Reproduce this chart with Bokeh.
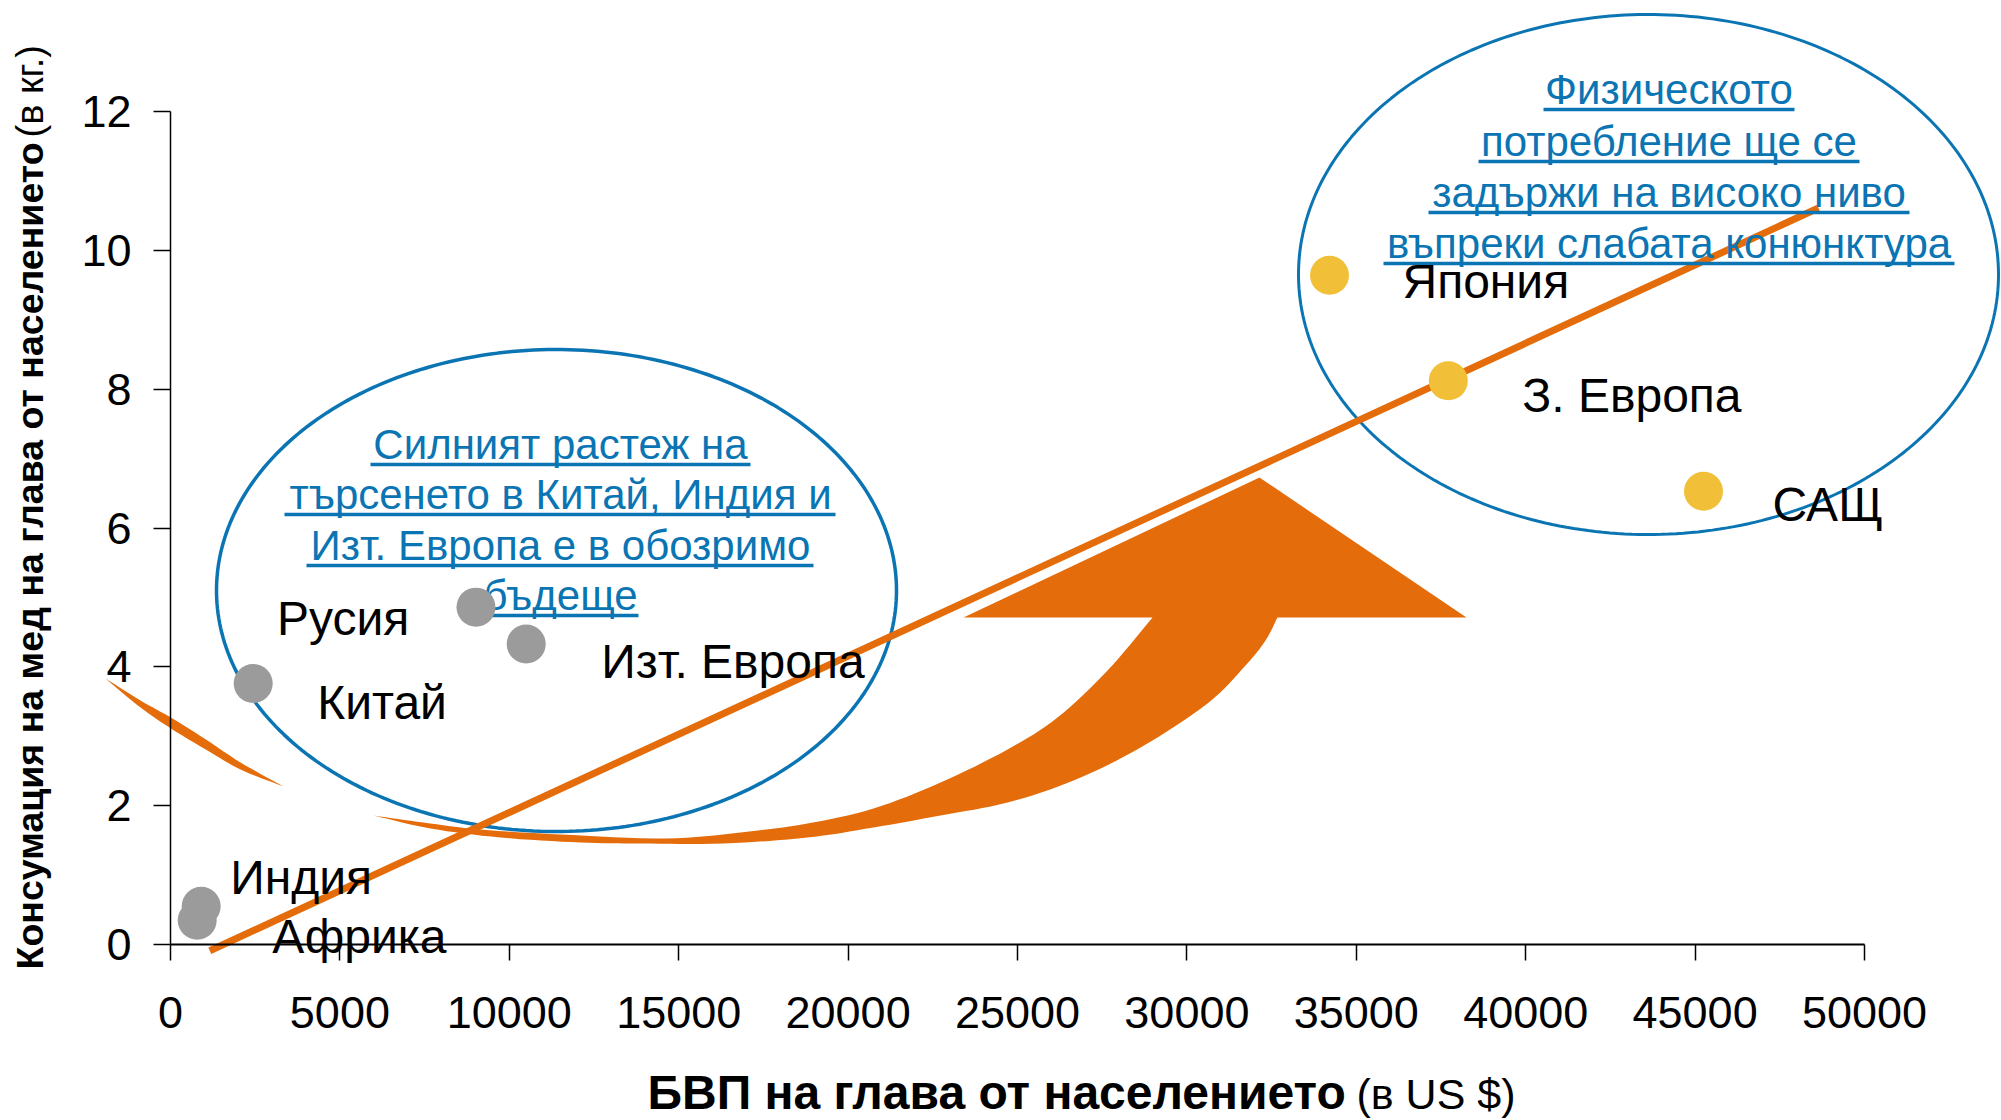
import numpy as np
from bokeh.plotting import figure
from bokeh.models import Range1d, FixedTicker, ColumnDataSource, LabelSet, PolyAnnotation
from bokeh.core.properties import value
from bokeh.embed import file_html
from bokeh.resources import INLINE

# ---------------- data ----------------
regions = ["Индия", "Африка", "Китай", "Русия", "Изт. Европа", "Япония", "З. Европа", "САЩ"]
gdp_per_capita = [906, 788, 2441, 9017, 10499, 34209, 37715, 45248]
copper_per_capita = [0.55, 0.35, 3.76, 4.86, 4.33, 9.64, 8.12, 6.53]
point_colors = ["#9B9B9B"] * 5 + ["#F1C038"] * 3
trend_x = [1160, 48642]
trend_y = [-0.09, 10.61]
x_ticks = [0, 5000, 10000, 15000, 20000, 25000, 30000, 35000, 40000, 45000, 50000]
y_ticks = [0, 2, 4, 6, 8, 10, 12]

# data label placement (pixels from point centre to text start / baseline, down positive)
label_dx = [29, 75, 64, -199, 75, 73, 74, 69]
label_dy = [-12, 33, 36, 28, 34, 23, 31, 30]

left_note = ["Силният растеж на", "търсенето в Китай, Индия и", "Изт. Европа е в обозримо", "бъдеще"]
right_note = ["Физическото", "потребление ще се", "задържи на високо ниво", "въпреки слабата конюнктура"]
y_title = ["Консумация на мед на глава от населението", "(в кг.)"]
x_title = ["БВП на глава от населението", "(в US $)"]

# ---------------- geometry (canvas pixels -> data) ----------------
W, H = 2001, 1120
FL, FR, FT, FB = 170, 1864, 111, 944     # where the axes sit on the canvas
XMAX, YMAX = 50000, 12
KX = XMAX / (FR - FL)
KY = YMAX / (FB - FT)


def X(px):
    return (np.asarray(px, dtype=float) - FL) * KX


def Y(py):
    return (FB - np.asarray(py, dtype=float)) * KY


ORANGE = "#E46C0A"
BLUE = "#0B75B3"
FONT = "Liberation Sans"

p = figure(width=W, height=H, output_backend="svg", toolbar_location=None,
           x_range=Range1d(float(X(0)), float(X(W))), y_range=Range1d(float(Y(H)), float(Y(0))),
           min_border=0)
p.outline_line_color = None
p.grid.visible = False
p.background_fill_color = "white"
p.border_fill_color = "white"

for ax, ticks, bounds in ((p.xaxis, x_ticks, (0, XMAX)), (p.yaxis, y_ticks, (0, YMAX))):
    ax.ticker = FixedTicker(ticks=ticks)
    ax.bounds = bounds
    ax.fixed_location = 0
    ax.major_label_text_font = FONT
    ax.major_label_text_font_size = "45px"
    ax.major_label_text_color = "black"
    ax.axis_line_color = "black"
    ax.major_tick_line_color = "black"
    ax.major_tick_line_width = 1.5
    ax.major_tick_in = 0
    ax.minor_tick_line_color = None
p.xaxis.axis_line_width = 2
p.yaxis.axis_line_width = 1.5
p.xaxis.major_tick_out = 16
p.yaxis.major_tick_out = 17
p.xaxis.major_label_standoff = 36
p.yaxis.major_label_standoff = 22


def poly(pts, **kw):
    xs, ys = zip(*pts)
    base = dict(xs_units="data", ys_units="data", fill_alpha=1, line_alpha=1)
    base.update(kw)
    p.add_layout(PolyAnnotation(xs=list(X(xs)), ys=list(Y(ys)), **base))


def smooth(pts, n=8):
    """Catmull-Rom spline through the given pixel points."""
    P = np.asarray(pts, dtype=float)
    P = np.vstack([P[0] * 2 - P[1], P, P[-1] * 2 - P[-2]])
    out = []
    for i in range(1, len(P) - 2):
        p0, p1, p2, p3 = P[i - 1], P[i], P[i + 1], P[i + 2]
        for t in np.linspace(0, 1, n, endpoint=False):
            t2, t3 = t * t, t * t * t
            out.append(0.5 * (2 * p1 + (-p0 + p2) * t + (2 * p0 - 5 * p1 + 4 * p2 - p3) * t2
                              + (-p0 + 3 * p1 - 3 * p2 + p3) * t3))
    out.append(P[-2])
    return [tuple(q) for q in out]


# ---------------- orange curved arrow (decoration) ----------------
tail_top = [(105, 678), (140, 700), (172, 718), (207, 740), (240, 762), (283, 786)]
tail_bot = [(283, 786), (240, 769), (207, 750), (172, 729), (140, 707), (105, 678)]
poly(smooth(tail_top) + smooth(tail_bot), fill_color=ORANGE, line_color=None, level="underlay")

outer = [(373, 815), (430, 828), (500, 837), (580, 842), (640, 843), (723, 843), (807, 837), (873, 827),
         (940, 815), (1007, 802), (1073, 780), (1140, 747), (1207, 703), (1245, 665), (1265, 640),
         (1277, 617)]
head = [(1466, 617), (1259, 477), (963, 617)]
inner = [(1152, 617), (1107, 670), (1057, 717), (1007, 749), (940, 782), (873, 808), (807, 823),
         (740, 832), (665, 838), (560, 834), (480, 829), (423, 822), (373, 815)]
poly(smooth(outer) + head + smooth(inner), fill_color=ORANGE, line_color=None, level="underlay")

# ---------------- ellipses ----------------
t = np.linspace(0, 2 * np.pi, 300)
def ellipse(cx, cy, a, b):
    return list(zip(cx + a * np.cos(t), cy + b * np.sin(t)))

poly(ellipse(556, 590, 340, 241), fill_color="white", line_color=BLUE, line_width=3.5, level="underlay")
poly(ellipse(1648, 274, 350, 260), fill_color=None, fill_alpha=0, line_color=BLUE, line_width=3,
     level="underlay")


# ---------------- text helpers ----------------
def texts(xs_px, ys_px, lines, level="annotation", angle=0.0, **kw):
    src = ColumnDataSource(dict(x=list(X(xs_px)), y=list(Y(ys_px)), text=lines))
    base = dict(text_baseline="alphabetic", text_font=value(FONT), text_color="black")
    base.update(kw)
    p.add_layout(LabelSet(x="x", y="y", text="text", source=src, angle=angle, level=level, **base))


def note(lines, cx, bases, uls, level):
    texts([cx] * len(lines), bases, lines, level=level, text_align="center",
          text_font_size="42px", text_color=BLUE)
    for b, (l, r) in zip(bases, uls):
        u = b + 6
        poly([(l, u - 1.8), (r, u - 1.8), (r, u + 1.8), (l, u + 1.8)],
             fill_color=BLUE, line_color=None, level=level)


left_base = [458, 508, 559, 609]
left_ul = [(370, 750), (284, 835), (306, 813), (484, 638)]
right_base = [103, 155, 206, 257]
right_ul = [(1543, 1794), (1478, 1859), (1428, 1909), (1383, 1954)]

note(left_note, 560, left_base, left_ul, "underlay")

# ---------------- trend line and points ----------------
p.line(trend_x, trend_y, line_color=ORANGE, line_width=7)

src = ColumnDataSource(dict(
    x=gdp_per_capita, y=copper_per_capita, name=regions, color=point_colors,
    lx=[xv + d * KX for xv, d in zip(gdp_per_capita, label_dx)],
    ly=[yv - d * KY for yv, d in zip(copper_per_capita, label_dy)],
))
p.scatter("x", "y", source=src, size=39, fill_color="color", line_color=None)

note(right_note, 1668.5, right_base, right_ul, "annotation")

p.add_layout(LabelSet(x="lx", y="ly", text="name", source=src, text_align="left",
                      text_baseline="alphabetic", text_font=value(FONT), text_font_size="48px",
                      text_color="black"))

# ---------------- axis titles ----------------
texts([42], [969], y_title[:1], angle=np.pi / 2, text_align="left",
      text_font_style="bold", text_font_size="37.5px")
texts([42], [137], y_title[1:], angle=np.pi / 2, text_align="left", text_font_size="38px")
texts([647], [1108], x_title[:1], text_align="left", text_font_style="bold", text_font_size="48px")
texts([1356], [1108], x_title[1:], text_align="left", text_font_size="43px")

open("out.html", "w").write(file_html(p, INLINE))
